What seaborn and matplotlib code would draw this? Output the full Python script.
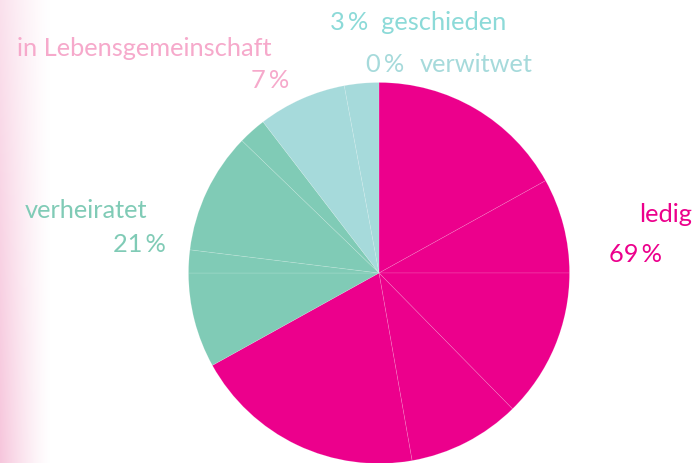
import numpy as np
import matplotlib
matplotlib.use("Agg")
import matplotlib.pyplot as plt
import seaborn as sns

# categories and shares (labels), plus the wedge pieces as drawn (degrees)
categories = ["ledig", "verheiratet", "in Lebensgemeinschaft", "geschieden", "verwitwet"]
percents = [69, 21, 7, 3, 0]
ledig_parts = [61, 29, 45.5, 34.5, 71]
verheiratet_parts = [29, 7, 37, 8.5]
lebensgemeinschaft_parts = [27]
geschieden_parts = [10.5]
verwitwet_parts = []

wedge_colors = {"ledig": "#EC008C", "verheiratet": "#80CBB6",
                "in Lebensgemeinschaft": "#A6DADB", "geschieden": "#A6DADB",
                "verwitwet": "#A6DADB"}
text_colors = {"ledig": "#EC008C", "verheiratet": "#80CBB6",
               "in Lebensgemeinschaft": "#F6A9CB", "geschieden": "#8CDAD8",
               "verwitwet": "#A6DADB"}

sns.set_theme(style="white")
plt.rcParams["font.family"] = ["Lato", "DejaVu Sans"]

W, H = 697, 463
fig = plt.figure(figsize=(W / 100, H / 100), dpi=100)

# pink fade on the left edge
bg = fig.add_axes([0, 0, 1, 1])
bg.set_axis_off()
xs = np.arange(W)
ys = np.arange(H)
fade = np.clip(1 - xs / 50.0, 0, 1) ** 1.3
vert = 0.45 + 0.4 * (ys / H)
alpha = vert[:, None] * fade[None, :]
base = np.array(matplotlib.colors.to_rgb("#F5BCD6"))
img = 1 - alpha[..., None] * (1 - base[None, None, :])
bg.imshow(img, extent=[0, W, 0, H], origin="upper", aspect="auto")
bg.set_xlim(0, W)
bg.set_ylim(0, H)

ax = fig.add_axes([0, 0, 1, 1])
ax.set_axis_off()
ax.patch.set_alpha(0)

parts = [ledig_parts, verheiratet_parts, lebensgemeinschaft_parts,
         geschieden_parts, verwitwet_parts]
sizes, cols = [], []
for cat, p in zip(categories, parts):
    sizes += p
    cols += [wedge_colors[cat]] * len(p)

ax.pie(sizes, colors=cols, startangle=90, counterclock=False,
       center=(379, H - 273), radius=190.5,
       wedgeprops=dict(edgecolor=(1, 1, 1, 0.18), linewidth=0.5))
ax.set_xlim(0, W)
ax.set_ylim(0, H)
ax.set_aspect("equal")

fs = 18.3
def put(x, y, s, cat, ha="left"):
    fig.text(x / W, 1 - y / H, s, color=text_colors[cat], fontsize=fs,
             ha=ha, va="center")

put(17, 49, "in Lebensgemeinschaft", "in Lebensgemeinschaft")
put(289, 80, f"{percents[2]}\u2009%", "in Lebensgemeinschaft", ha="right")
put(330, 22, f"{percents[3]}\u2009%  {categories[3]}", "geschieden")
put(366, 65, f"{percents[4]}\u2009%", "verwitwet")
put(420, 65, categories[4], "verwitwet")
put(25, 211, categories[1], "verheiratet")
put(166, 244, f"{percents[1]}\u2009%", "verheiratet", ha="right")
put(692, 215, categories[0], "ledig", ha="right")
put(662, 254, f"{percents[0]}\u2009%", "ledig", ha="right")

fig.savefig("out.png", dpi=100)
